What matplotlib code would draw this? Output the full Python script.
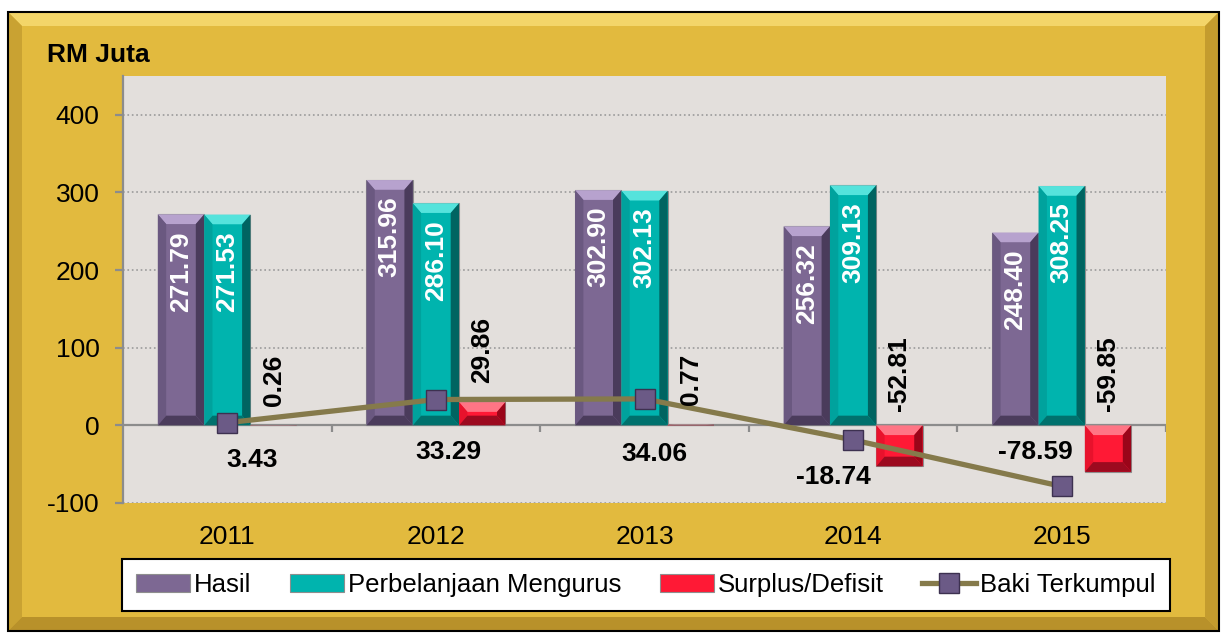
import numpy as np
import matplotlib
matplotlib.use('Agg')
from matplotlib import pyplot as plt
from matplotlib.patches import Polygon, Rectangle

plt.rcParams['font.family'] = ['Liberation Sans', 'DejaVu Sans']
plt.rcParams['axes.unicode_minus'] = False

# data
years = ['2011', '2012', '2013', '2014', '2015']
hasil = [271.79, 315.96, 302.90, 256.32, 248.40]
belanja = [271.53, 286.10, 302.13, 309.13, 308.25]
surplus = [0.26, 29.86, 0.77, -52.81, -59.85]
baki = [3.43, 33.29, 34.06, -18.74, -78.59]
yticks = [-100, 0, 100, 200, 300, 400]

# label offsets for Baki Terkumpul (points), hand-placed like the original
baki_offsets = [(18, -27), (9, -38), (7, -40), (-14, -27), (-19, 25)]

# colours: face, top, left, right, bottom
col_hasil = ('#7D6893', '#B7A2CE', '#6A5880', '#4A3B5B', '#4B3C5C')
col_belanja = ('#00B4AE', '#55E3DC', '#00A29D', '#006461', '#00716D')
col_surplus = ('#FF1935', '#FF7585', '#E8122C', '#9A0519', '#9C0A1F')

fig = plt.figure(figsize=(12.21, 6.33), dpi=100)
fig.patch.set_facecolor('white')
W, H = 1221.0, 633.0


def fx(px):
    return px / W


def fy(py):
    return 1 - py / H


# golden frame with bevel
L, T, R, B = 8, 12, 1219, 631
bw = 14
frame_parts = [
    ([(L, T), (R, T), (R - bw, T + bw), (L + bw, T + bw)], '#F3D569'),
    ([(L, T), (L + bw, T + bw), (L + bw, B - bw), (L, B)], '#C9A232'),
    ([(R, T), (R, B), (R - bw, B - bw), (R - bw, T + bw)], '#C49C2E'),
    ([(L, B), (L + bw, B - bw), (R - bw, B - bw), (R, B)], '#B8912A'),
]
fig.patches.append(Rectangle((fx(L), fy(B)), fx(R - L), (B - T) / H,
                             transform=fig.transFigure, facecolor='#E2BA3E',
                             edgecolor='none', zorder=-3))
for pts, c in frame_parts:
    fig.patches.append(Polygon([(fx(a), fy(b)) for a, b in pts], closed=True,
                               transform=fig.transFigure, facecolor=c,
                               edgecolor='none', zorder=-2))
fig.patches.append(Rectangle((fx(L), fy(B)), fx(R - L), (B - T) / H,
                             transform=fig.transFigure, facecolor='none',
                             edgecolor='black', lw=1.5, zorder=-1))

ax = fig.add_axes([fx(123), fy(503), fx(1166 - 123), (503 - 76) / H])
ax.set_zorder(1)
ax.set_facecolor('#E3DFDC')

x = np.arange(len(years))
bw_ = 0.222


def bevel(rects, cols):
    face, top, left, right, bottom = cols
    for r in rects:
        x0 = r.get_x()
        x1 = x0 + r.get_width()
        yb = min(r.get_y(), r.get_y() + r.get_height())
        yt = max(r.get_y(), r.get_y() + r.get_height())
        d = 0.04
        e = min(12.5, (yt - yb) / 2)
        parts = [
            ([(x0, yt), (x1, yt), (x1 - d, yt - e), (x0 + d, yt - e)], top),
            ([(x0, yb), (x0 + d, yb + e), (x0 + d, yt - e), (x0, yt)], left),
            ([(x1, yb), (x1, yt), (x1 - d, yt - e), (x1 - d, yb + e)], right),
            ([(x0, yb), (x1, yb), (x1 - d, yb + e), (x0 + d, yb + e)], bottom),
        ]
        for pts, c in parts:
            ax.add_patch(Polygon(pts, closed=True, facecolor=c,
                                 edgecolor='none', zorder=3.1))


b1 = ax.bar(x - bw_, hasil, bw_, color=col_hasil[0], edgecolor='#8E8E8E',
            lw=0.8, zorder=3, label='Hasil')
b2 = ax.bar(x, belanja, bw_, color=col_belanja[0], edgecolor='#8E8E8E',
            lw=0.8, zorder=3, label='Perbelanjaan Mengurus')
b3 = ax.bar(x + bw_, surplus, bw_, color=col_surplus[0], edgecolor='#8E8E8E',
            lw=0.8, zorder=3, label='Surplus/Defisit')
bevel(b1, col_hasil)
bevel(b2, col_belanja)
bevel(b3, col_surplus)

ln, = ax.plot(x, baki, color='#857A4B', lw=3.8, marker='s', ms=14,
              mfc='#6B5A86', mec='#3D3150', mew=1, zorder=5,
              label='Baki Terkumpul')

# labels
for xi, v in zip(x - bw_, hasil):
    ax.annotate(f'{v:.2f}', (xi, v), xytext=(0, -12), textcoords='offset points',
                rotation=90, ha='center', va='top', color='white',
                fontsize=19, fontweight='bold', zorder=6)
for xi, v in zip(x, belanja):
    ax.annotate(f'{v:.2f}', (xi, v), xytext=(0, -12), textcoords='offset points',
                rotation=90, ha='center', va='top', color='white',
                fontsize=19, fontweight='bold', zorder=6)
for xi, v in zip(x + bw_, surplus):
    ax.annotate(f'{v:.2f}', (xi, max(v, 0)), xytext=(0, 14 if v > 0 else 10),
                textcoords='offset points', rotation=90, ha='center',
                va='bottom', color='black', fontsize=19, fontweight='bold',
                zorder=6)
for xi, v, off in zip(x, baki, baki_offsets):
    ax.annotate(f'{v:.2f}', (xi, v), xytext=off, textcoords='offset points',
                ha='center', va='center', color='black', fontsize=19,
                fontweight='bold', zorder=6)

# axes
ax.set_xlim(-0.5, len(years) - 0.5)
ax.set_ylim(-100, 450)
ax.set_yticks(yticks)
ax.set_xticks(x)
ax.set_xticklabels(years)
ax.yaxis.grid(True, linestyle=':', color='#9A9A9A', lw=1.2, zorder=0)
ax.set_axisbelow(True)
for s in ['top', 'right', 'bottom']:
    ax.spines[s].set_visible(False)
ax.spines['left'].set_color('#8C8C8C')
ax.spines['left'].set_linewidth(1.6)
ax.tick_params(axis='y', direction='out', length=6, width=1.6,
               color='#8C8C8C', labelsize=19, pad=11)
ax.tick_params(axis='x', length=0, labelsize=19, pad=16)
ax.axhline(0, color='#8C8C8C', lw=1.6, zorder=2)
ax.vlines(np.arange(len(years)) + 0.5, -8, 0, color='#8C8C8C', lw=1.6,
          zorder=2)

fig.text(fx(47), fy(55), 'RM Juta', fontsize=19, fontweight='bold',
         ha='left', va='center')

leg = fig.legend(handles=[b1, b2, b3, ln], loc='center',
                 bbox_to_anchor=(fx(646), fy(585)), ncol=4, fontsize=18.5,
                 frameon=True, fancybox=False, handlelength=2.1,
                 handletextpad=0.15, columnspacing=1.5, borderpad=0.55,
                 borderaxespad=0, framealpha=1)
leg.set_zorder(5)
leg.get_frame().set_edgecolor('black')
leg.get_frame().set_linewidth(1.5)
leg.get_frame().set_facecolor('white')

fig.savefig('out.png', dpi=100)
